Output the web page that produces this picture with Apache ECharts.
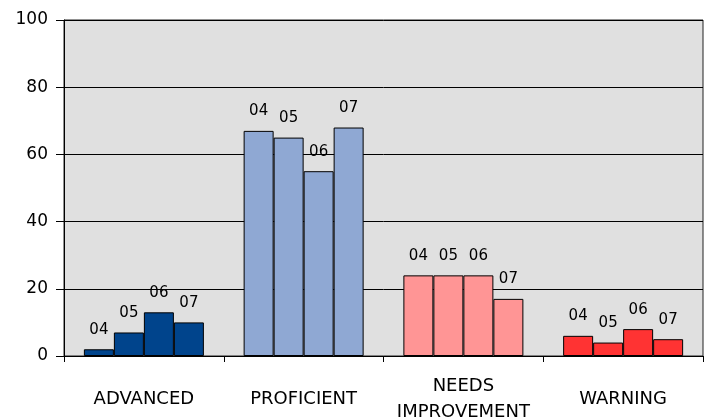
<!DOCTYPE html>
<html>
<head>
<meta charset="utf-8">
<script src="https://cdn.jsdelivr.net/npm/echarts@6/dist/echarts.min.js"></script>
<style>
    html, body { margin: 0; padding: 0; background: #fff; }
    #container1 { width: 713px; height: 420px; }
</style>
</head>
<body>
<div id="container1"></div>
<script>
// 数据
var categories = ['ADVANCED', 'PROFICIENT', 'NEEDS\nIMPROVEMENT', 'WARNING'];
var years = ['04', '05', '06', '07'];
var s04 = [2, 67, 24, 6];
var s05 = [7, 65, 24, 4];
var s06 = [13, 55, 24, 8];
var s07 = [10, 68, 17, 5];
var yTicks = [0, 20, 40, 60, 80, 100];

// 每个类别一种颜色
var catColors = ['#00448C', '#8FA8D3', '#FF9595', '#FF3333'];

function buildSeries(name, values) {
    var items = [];
    for (var i = 0; i < values.length; i++) {
        items.push({ value: values[i], itemStyle: { color: catColors[i] } });
    }
    return {
        name: name,
        type: 'bar',
        barWidth: 30,
        barGap: '0%',
        itemStyle: { borderColor: '#000', borderWidth: 1 },
        label: {
            show: true,
            position: 'top',
            distance: 12,
            formatter: '{a}',
            fontFamily: 'DejaVu Sans',
            fontSize: 15,
            color: '#000'
        },
        data: items
    };
}

function Chart1_Init() {
    var myChart = echarts.init(document.getElementById('container1'));
    var option = {
        animation: false,
        grid: {
            left: 64,
            right: 10,
            top: 20,
            bottom: 64,
            outerBoundsMode: 'none',
            containLabel: false,
            show: true,
            backgroundColor: '#E0E0E0',
            borderColor: '#222',
            borderWidth: 1
        },
        xAxis: {
            type: 'category',
            data: categories,
            axisLine: { lineStyle: { color: '#000', width: 1 } },
            axisTick: { show: true, length: 6, lineStyle: { color: '#000' } },
            axisLabel: {
                interval: 0,
                margin: 43,
                verticalAlign: 'middle',
                lineHeight: 26,
                fontFamily: 'DejaVu Sans',
                fontSize: 18,
                color: '#000'
            }
        },
        yAxis: {
            type: 'value',
            min: yTicks[0],
            max: yTicks[yTicks.length - 1],
            interval: 20,
            axisLine: { show: true, lineStyle: { color: '#000', width: 1 } },
            axisTick: { show: true, length: 8, lineStyle: { color: '#000' } },
            splitLine: { lineStyle: { color: '#000', width: 1 } },
            axisLabel: {
                margin: 16,
                fontFamily: 'DejaVu Sans',
                fontSize: 17,
                color: '#000'
            }
        },
        series: [
            buildSeries(years[0], s04),
            buildSeries(years[1], s05),
            buildSeries(years[2], s06),
            buildSeries(years[3], s07)
        ]
    };
    myChart.setOption(option);
}

Chart1_Init();
</script>
</body>
</html>
